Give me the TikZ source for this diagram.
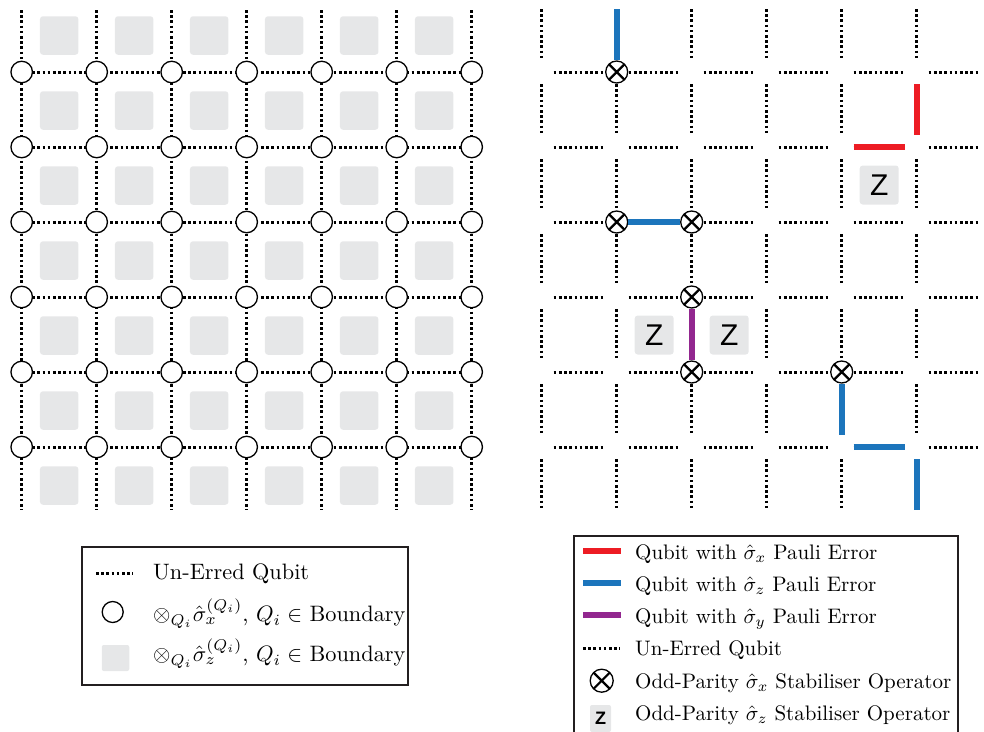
\documentclass[tikz,border=0pt]{standalone}
\usepackage{fontspec}
\usepackage{graphicx}
\newfontfamily\zfont{Liberation Sans}
\definecolor{errred}{HTML}{ED1C24}
\definecolor{errblue}{HTML}{1C75BC}
\definecolor{errpurple}{HTML}{92278F}
\definecolor{plaq}{HTML}{E6E7E8}
\definecolor{frame}{HTML}{231F20}
\newcommand\legL[1]{\scalebox{2.23}{#1}}
\newcommand\legR[1]{\scalebox{2.1}{#1}}
\tikzset{
  qdot/.style={line width=3pt, dash pattern=on 2.6pt off 2.6pt, black},
  gap/.style={shorten <=12pt, shorten >=12pt},
  err/.style={line width=6pt},
  bcirc/.style={circle, draw, fill=white, line width=1.3pt, minimum size=21.5pt, inner sep=0pt},
  xcirc/.style={circle, draw, fill=white, line width=1.3pt, minimum size=22pt, inner sep=0pt,
    path picture={\draw[line width=2.2pt]
      (path picture bounding box.north west) -- (path picture bounding box.south east)
      (path picture bounding box.north east) -- (path picture bounding box.south west);}},
  plaqbox/.style={fill=plaq, rounded corners=3pt, minimum size=38.5pt, inner sep=0pt},
  zbox/.style={fill=plaq, rounded corners=3pt, minimum size=39pt, inner sep=0pt,
    font=\zfont\fontsize{30}{30}\selectfont},
  legtext/.style={anchor=base west, inner sep=0pt},
  legframe/.style={line width=2pt, draw=frame}
}
\begin{document}
\begin{tikzpicture}[x=1pt,y=-1pt]
\useasboundingbox (0,0) rectangle (984,731);

% ---------- left lattice ----------
\foreach \i in {0,...,6}{
  \coordinate (T-\i) at ({21.7+75*\i},10);
  \coordinate (B-\i) at ({21.7+75*\i},510);
  \foreach \j in {1,...,6}{
    \coordinate (L-\i-\j) at ({21.7+75*\i},{72+75*(\j-1)});
  }
}
\foreach \i in {0,...,5}{
  \foreach \j in {0,...,6}{
    \node[plaqbox] (S-\i-\j) at ({59.2+75*\i},{35.5+75*\j}) {};
  }
}
\foreach \i in {0,...,6}{ \draw[qdot] (T-\i) -- (B-\i); }
\foreach \j in {1,...,6}{ \draw[qdot] (L-0-\j) -- (L-6-\j); }
\foreach \i in {0,...,6}{
  \foreach \j in {1,...,6}{
    \node[bcirc] (C-\i-\j) at (L-\i-\j) {};
  }
}

% ---------- right lattice ----------
\foreach \i in {0,...,6}{
  \foreach \j in {0,...,7}{
    \coordinate (R-\i-\j) at ({541.7+75*\i},{-3+75*\j});
  }
}
\foreach \j in {1,...,6}{
  \foreach \i [evaluate=\i as \k using int(\i+1)] in {0,...,5}{
    \draw[qdot, gap] (R-\i-\j) -- (R-\k-\j);
  }
}
\foreach \i in {0,...,5}{
  \foreach \j [evaluate=\j as \k using int(\j+1)] in {0,...,6}{
    \draw[qdot, gap] (R-\i-\j) -- (R-\i-\k);
  }
}
% odd-parity X stabilisers
\node[xcirc] (X1) at (R-1-1) {};
\node[xcirc] (X2) at (R-1-3) {};
\node[xcirc] (X3) at (R-2-3) {};
\node[xcirc] (X4) at (R-2-4) {};
\node[xcirc] (X5) at (R-2-5) {};
\node[xcirc] (X6) at (R-4-5) {};
% errors
\draw[err, errblue, shorten <=12pt] (R-1-0) -- (X1);
\draw[err, errred, gap] (R-5-1) -- (R-5-2);
\draw[err, errred, gap] (R-4-2) -- (R-5-2);
\draw[err, errblue] (X2) -- (X3);
\draw[err, errpurple] (X4) -- (X5);
\draw[err, errblue, shorten >=12pt] (X6) -- (R-4-6);
\draw[err, errblue, gap] (R-4-6) -- (R-5-6);
\draw[err, errblue, gap] (R-5-6) -- (R-5-7);
% odd-parity Z stabilisers
\node[zbox] (Z1) at (879.2,185) {Z};
\node[zbox] (Z2) at (654.2,335) {Z};
\node[zbox] (Z3) at (729.2,335) {Z};

% ---------- left legend ----------
\draw[legframe] (82,547) rectangle (408,685);
\coordinate (la1) at (96,573);
\coordinate (la2) at (133,573);
\draw[qdot] (la1) -- (la2);
\node[legtext] (lt1) at (153,579.3) {\legL{Un-Erred Qubit}};
\node[bcirc, minimum size=21pt] (lc) at (112.7,612) {};
\node[legtext] (lt2) at (153,621.7) {\legL{$\otimes_{Q_i}\hat{\sigma}_x^{(Q_i)}$, $Q_i\in$ Boundary}};
\node[fill=plaq, rounded corners=2pt, minimum width=27.5pt, minimum height=26pt, inner sep=0pt] (ls) at (115.5,658) {};
\node[legtext] (lt3) at (153,661.7) {\legL{$\otimes_{Q_i}\hat{\sigma}_z^{(Q_i)}$, $Q_i\in$ Boundary}};

% ---------- right legend ----------
\begin{scope}
\clip (0,0) rectangle (984,731);
\draw[legframe] (574,760) -- (574,536) -- (958,536) -- (958,760);
\end{scope}
\coordinate (ra1) at (583,551.3); \coordinate (rb1) at (621,551.3);
\coordinate (ra2) at (583,583);   \coordinate (rb2) at (621,583);
\coordinate (ra3) at (583,615);   \coordinate (rb3) at (621,615);
\coordinate (ra4) at (583,648);   \coordinate (rb4) at (620,648);
\draw[err, errred] (ra1) -- (rb1);
\draw[err, errblue] (ra2) -- (rb2);
\draw[err, errpurple] (ra3) -- (rb3);
\draw[qdot] (ra4) -- (rb4);
\node[xcirc, minimum size=23pt] (rx) at (601.7,680.7) {};
\node[fill=plaq, rounded corners=2pt, minimum width=21pt, minimum height=27pt, inner sep=0pt,
      font=\zfont\bfseries\fontsize{18}{18}\selectfont] (rz) at (600.5,718.5) {Z};
\node[legtext] (rt1) at (635,559.5) {\legR{Qubit with $\hat{\sigma}_x$ Pauli Error}};
\node[legtext] (rt2) at (635,591.7) {\legR{Qubit with $\hat{\sigma}_z$ Pauli Error}};
\node[legtext] (rt3) at (635,623.5) {\legR{Qubit with $\hat{\sigma}_y$ Pauli Error}};
\node[legtext] (rt4) at (635,655.5) {\legR{Un-Erred Qubit}};
\node[legtext] (rt5) at (635,688) {\legR{Odd-Parity $\hat{\sigma}_x$ Stabiliser Operator}};
\node[legtext] (rt6) at (635,720) {\legR{Odd-Parity $\hat{\sigma}_z$ Stabiliser Operator}};
\end{tikzpicture}
\end{document}
